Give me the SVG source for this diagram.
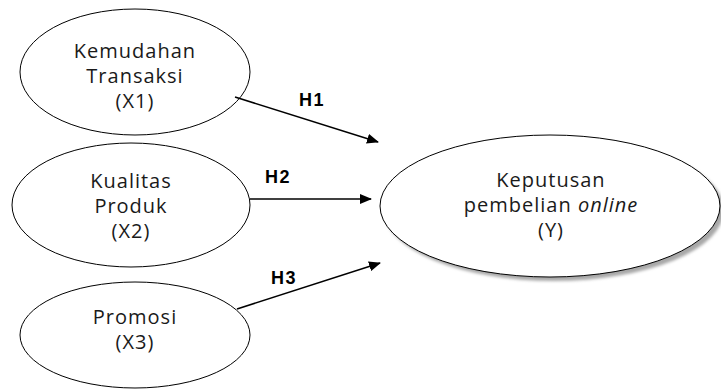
<svg xmlns="http://www.w3.org/2000/svg" width="721" height="390" viewBox="0 0 721 390">
<style>
.node ellipse{fill:#fff;stroke:#000;stroke-width:1}
.lbl{font-family:"Open Sans","DejaVu Sans",sans-serif;font-size:20px;letter-spacing:1px;fill:#1a1a1a;text-anchor:middle}
.h{font-family:"Liberation Sans",Arial,sans-serif;font-size:18px;font-weight:bold;fill:#000;text-anchor:middle;letter-spacing:1.5px}
.conn line{stroke:#000;stroke-width:1.5}
</style>
<defs>
<marker id="arr" markerWidth="12" markerHeight="10" refX="11" refY="5" orient="auto" markerUnits="userSpaceOnUse">
<path d="M0,0 L12,5 L0,10 z" fill="#000"/>
</marker>
<filter id="sh" x="-10%" y="-10%" width="120%" height="130%">
<feGaussianBlur stdDeviation="1.5"/>
</filter>
</defs>
<rect width="721" height="390" fill="#fff"/>
<g id="x1" class="node">
<ellipse cx="135" cy="72" rx="115" ry="63"/>
<text class="lbl" x="135" y="58">Kemudahan</text>
<text class="lbl" x="135" y="83">Transaksi</text>
<text class="lbl" x="135" y="108">(X1)</text>
</g>
<g id="x2" class="node">
<ellipse cx="131" cy="205" rx="119" ry="62"/>
<text class="lbl" x="131" y="188">Kualitas</text>
<text class="lbl" x="131" y="213">Produk</text>
<text class="lbl" x="131" y="238">(X2)</text>
</g>
<g id="x3" class="node">
<ellipse cx="135" cy="335" rx="115" ry="53"/>
<text class="lbl" x="135" y="324">Promosi</text>
<text class="lbl" x="135" y="349">(X3)</text>
</g>
<g id="y" class="node">
<ellipse cx="554" cy="210" rx="170" ry="71" style="fill:#a8a8a8;stroke:none" filter="url(#sh)"/>
<ellipse cx="550" cy="206" rx="170" ry="71"/>
<text class="lbl" x="551" y="187">Keputusan</text>
<text class="lbl" x="551" y="212">pembelian <tspan font-style="italic">online</tspan></text>
<text class="lbl" x="551" y="237">(Y)</text>
</g>
<g id="connectors" class="conn">
<line x1="235" y1="97" x2="378" y2="142" marker-end="url(#arr)"/>
<line x1="250" y1="199" x2="371" y2="199" marker-end="url(#arr)"/>
<line x1="237" y1="309" x2="380" y2="263" marker-end="url(#arr)"/>
<text class="h" x="312" y="106">H1</text>
<text class="h" x="278" y="183">H2</text>
<text class="h" x="284" y="284">H3</text>
</g>
</svg>
